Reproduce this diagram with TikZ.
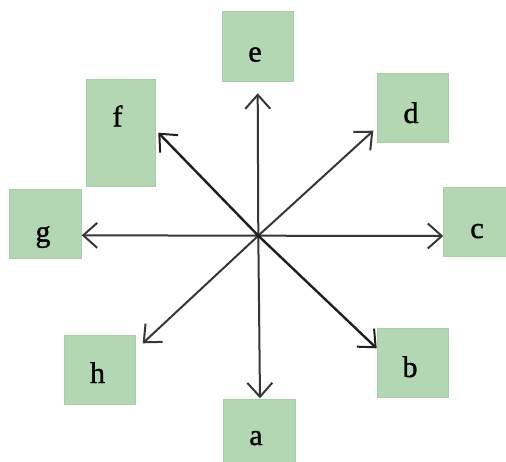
\documentclass[tikz,border=0pt]{standalone}
\usepackage{fontspec}
\setmainfont{Liberation Serif}
\newfontfamily\lblfont{Liberation Serif}[FakeBold=1.2]
\usetikzlibrary{arrows.meta}
\definecolor{boxgreen}{RGB}{179,214,179}
\definecolor{boxedge}{RGB}{168,206,168}
\definecolor{linegray}{RGB}{55,55,55}
\tikzset{
  greenbox/.style={rectangle, fill=boxgreen, draw=boxedge, line width=0.6pt, inner sep=0pt, anchor=north west},
  lbl/.style={anchor=base, inner sep=0pt, font=\lblfont\fontsize{30}{30}\selectfont},
  spoke/.style={draw=linegray, line width=2pt, -{Straight Barb[length=14pt,width=25pt,line width=2pt]}},
  darkspoke/.style={spoke, draw=black!88, line width=2.4pt}
}
\begin{document}
\begin{tikzpicture}[x=1pt,y=-1pt]
\useasboundingbox (0,0) rectangle (506,461);
\clip (0,0) rectangle (506,461);
\fill[white] (0,0) rectangle (506,461);
% boxes
\node[greenbox, minimum width=71pt, minimum height=70pt] (e) at (221.7,10.7) {};
\node[greenbox, minimum width=71.6pt, minimum height=69pt] (d) at (376.7,73.3) {};
\node[greenbox, minimum width=69pt, minimum height=107.3pt] (f) at (86,78.7) {};
\node[greenbox, minimum width=72.3pt, minimum height=69pt] (g) at (8.7,189.3) {};
\node[greenbox, minimum width=70pt, minimum height=69.3pt] (c) at (443.3,186.7) {};
\node[greenbox, minimum width=71.3pt, minimum height=69pt] (h) at (64,335) {};
\node[greenbox, minimum width=71.6pt, minimum height=68.4pt] (b) at (376.7,328.3) {};
\node[greenbox, minimum width=71.7pt, minimum height=80pt] (a) at (223.3,399) {};
% labels
\node[lbl] (le) at (255,61.5) {e};
\node[lbl] (ld) at (411,123) {d};
\node[lbl] (lf) at (117.5,126.5) {f};
\node[lbl] (lg) at (43,241.5) {g};
\node[lbl] (lc) at (477,238) {c};
\node[lbl] (lh) at (97.5,383) {h};
\node[lbl] (lb) at (410,377) {b};
\node[lbl] (la) at (256,445) {a};
% centre and arrow tips
\coordinate (O) at (258.3,235.7);
\coordinate (te) at (257.7,93.3);
\coordinate (td) at (373.3,130.7);
\coordinate (tc) at (443.3,236);
\coordinate (tb) at (376.7,348.3);
\coordinate (ta) at (260,398.3);
\coordinate (th) at (142.7,343.3);
\coordinate (tg) at (81.7,235.3);
\coordinate (tf) at (158.3,132.7);
% spokes
\draw[spoke] (O) -- (te);
\draw[spoke] (O) -- (ta);
\draw[spoke] (O) -- (tc);
\draw[spoke] (O) -- (tg);
\draw[spoke] (O) -- (td);
\draw[spoke] (O) -- (th);
\draw[darkspoke] (O) -- (tf);
\draw[darkspoke] (O) -- (tb);
\end{tikzpicture}
\end{document}
